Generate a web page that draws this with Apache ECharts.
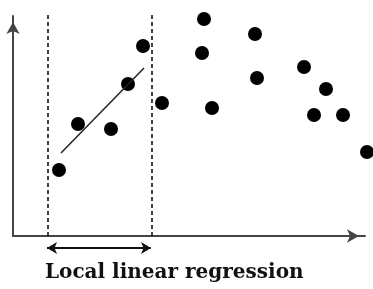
<!DOCTYPE html>
<html><head><meta charset="utf-8">
<script src="https://cdn.jsdelivr.net/npm/echarts@6/dist/echarts.min.js"></script>
<style>html,body{margin:0;padding:0;background:#fff}#c{width:373px;height:289px}</style>
</head><body><div id="c"></div>
<script>
// data in chart units (x: 0..352, y: 0..220)
const pointsX = [46, 65, 98, 115, 130, 149, 191, 189, 199, 242, 244, 291, 313, 301, 330, 354];
const pointsY = [66, 112, 107, 152, 190, 133, 217, 183, 128, 202, 158, 169, 147, 121, 121, 84];
const regressionX = [48, 131];
const regressionY = [83, 168];
const windowBounds = [35, 139];
const windowYRange = [0, 224];
const spanArrowX = [34, 138];
const caption = 'Local linear regression';

const chart = echarts.init(document.getElementById('c'));
const scatterData = pointsX.map((x, i) => [x, pointsY[i]]);
const regData = regressionX.map((x, i) => [x, regressionY[i]]);
const dashSeries = windowBounds.map(b => ({
  type: 'line', data: windowYRange.map(y => [b, y]), symbol: 'none', clip: false,
  lineStyle: { color: '#000', width: 1.5, type: [4, 3] }, silent: true
}));
const hidden = { axisLine: { show: false }, axisTick: { show: false }, axisLabel: { show: false }, splitLine: { show: false } };
chart.setOption({
  animation: false,
  title: { text: caption, left: 45, top: 263, padding: 0,
    textStyle: { fontFamily: 'DejaVu Serif', fontWeight: 'bold', fontSize: 20, color: '#111' } },
  grid: [
    { left: 13, right: 8, top: 16, bottom: 53 },
    { left: 13, right: 8, top: 243, height: 10 }
  ],
  xAxis: [
    { type: 'value', min: 0, max: 352, gridIndex: 0,
      axisLine: { lineStyle: { color: '#444', width: 2 }, symbol: ['none', 'arrow'], symbolSize: [10, 12], symbolOffset: [0, -6] },
      axisTick: { show: false }, axisLabel: { show: false }, splitLine: { show: false } },
    Object.assign({ type: 'value', min: 0, max: 352, gridIndex: 1 }, hidden)
  ],
  yAxis: [
    { type: 'value', min: 0, max: 220, gridIndex: 0,
      axisLine: { lineStyle: { color: '#444', width: 2 }, symbol: ['none', 'arrow'], symbolSize: [10, 12], symbolOffset: [0, -6] },
      axisTick: { show: false }, axisLabel: { show: false }, splitLine: { show: false } },
    Object.assign({ type: 'value', min: -1, max: 1, gridIndex: 1 }, hidden)
  ],
  series: [
    ...dashSeries,
    { type: 'line', data: regData, symbol: 'none', lineStyle: { color: '#222', width: 1.5 } },
    { type: 'scatter', data: scatterData, symbolSize: 14, clip: false, itemStyle: { color: '#000', opacity: 1 } },
    { type: 'line', xAxisIndex: 1, yAxisIndex: 1, data: [], symbol: 'none',
      markLine: { silent: true, symbol: ['arrow', 'arrow'], symbolSize: [9, 10], label: { show: false },
        lineStyle: { color: '#111', width: 2, type: 'solid' },
        data: [[{ coord: [spanArrowX[0], 0] }, { coord: [spanArrowX[1], 0] }]] } }
  ]
});
</script></body></html>
